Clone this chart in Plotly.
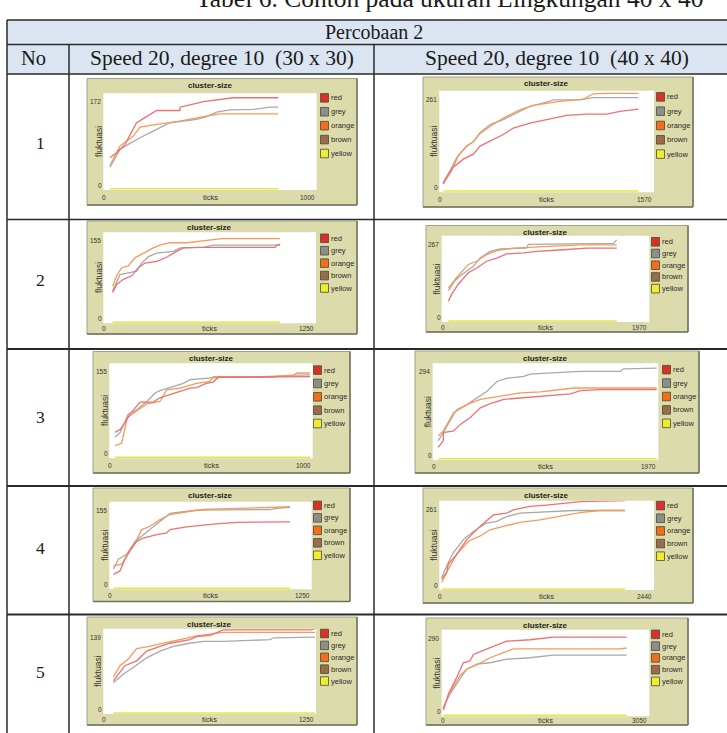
import plotly.graph_objects as go

W, H = 727, 733

# ---------------- data (ticks / values) ----------------
CAPTION = "Tabel 6. Contoh pada ukuran Lingkungan 40 x 40"
HEAD_TOP = "Percobaan 2"
HEAD_NO = "No"
HEAD_A = "Speed 20, degree 10\u00a0 (30 x 30)"
HEAD_B = "Speed 20, degree 10\u00a0 (40 x 40)"
ROW_NUMBERS = ["1", "2", "3", "4", "5"]
LEGEND_NAMES = ["red", "grey", "orange", "brown", "yellow"]
PLOT_TITLE = "cluster-size"
Y_TITLE = "fluktuasi"
X_TITLE = "ticks"

# x-axis max / y-axis max labels per plot (row 1..5, a = 30x30, b = 40x40)
XMAX_A = [1000, 1250, 1000, 1250, 1250]
YMAX_A = [172, 155, 155, 155, 139]
XMAX_B = [1570, 1970, 1970, 2440, 3050]
YMAX_B = [261, 267, 294, 261, 290]

# row 1, 30x30
t1a_red = [31, 62, 102, 141, 156, 203, 250, 359, 359, 406, 469, 609, 820]
v1a_red = [56, 65, 80, 110, 119, 130, 141, 141, 147, 151, 157, 164, 164]
t1a_grey = [31, 78, 117, 172, 234, 312, 438, 484, 531, 594, 703, 781, 820]
v1a_grey = [39, 71, 80, 92, 104, 119, 125, 130, 138, 142, 143, 147, 147]
t1a_orange = [31, 78, 141, 172, 266, 359, 469, 547, 820]
v1a_orange = [42, 77, 95, 111, 117, 122, 130, 135, 135]
# row 1, 40x40
t1b_red = [29, 54, 102, 176, 249, 298, 371, 468, 541, 663, 785, 931, 1077, 1224, 1321, 1455]
v1b_red = [19, 36, 62, 83, 96, 117, 130, 147, 164, 177, 186, 197, 200, 200, 207, 213]
t1b_grey = [29, 78, 127, 200, 249, 298, 371, 468, 566, 663, 785, 834, 1029, 1126, 1455]
v1b_grey = [23, 53, 87, 117, 128, 152, 173, 186, 203, 220, 231, 237, 237, 243, 243]
t1b_orange = [29, 90, 139, 200, 249, 298, 371, 468, 590, 688, 883, 1053, 1126, 1224, 1455]
v1b_orange = [19, 53, 92, 117, 128, 150, 168, 190, 211, 223, 233, 239, 253, 254, 254]
# row 2, 30x30
t2a_red = [55, 78, 118, 167, 206, 245, 314, 372, 431, 470, 548, 794, 1010, 1020, 1039]
v2a_red = [51, 65, 74, 80, 94, 102, 105, 112, 122, 128, 129, 129, 129, 133, 134]
t2a_grey = [55, 98, 147, 196, 225, 265, 314, 412, 451, 588, 647, 1039]
v2a_grey = [54, 82, 85, 88, 102, 113, 119, 122, 128, 129, 133, 133]
t2a_orange = [55, 78, 108, 147, 186, 235, 294, 333, 392, 490, 549, 698, 1039]
v2a_orange = [62, 80, 94, 97, 111, 119, 128, 133, 137, 137, 139, 144, 144]
# row 2, 40x40
t2b_red = [63, 95, 158, 253, 332, 427, 522, 617, 775, 901, 1154, 1376, 1661]
v2b_red = [62, 84, 115, 151, 166, 187, 197, 210, 213, 218, 223, 228, 228]
t2b_grey = [63, 126, 174, 237, 300, 364, 458, 553, 806, 822, 1628, 1661]
v2b_grey = [95, 126, 141, 156, 171, 197, 218, 226, 228, 240, 243, 254]
t2b_orange = [63, 142, 253, 332, 427, 522, 680, 901, 1154, 1312, 1661]
v2b_orange = [103, 136, 177, 187, 208, 220, 228, 231, 236, 238, 238]
# row 3, 30x30
t3a_red = [28, 54, 77, 102, 151, 216, 249, 298, 347, 397, 429, 477, 511, 536, 987]
v3a_red = [41, 46, 57, 71, 91, 91, 98, 103, 109, 114, 115, 122, 124, 132, 133]
t3a_grey = [28, 54, 93, 126, 184, 225, 249, 298, 364, 397, 544, 790, 872, 987]
v3a_grey = [33, 41, 71, 76, 92, 106, 110, 115, 122, 128, 132, 132, 135, 136]
t3a_orange = [28, 61, 88, 134, 184, 249, 282, 347, 429, 495, 511, 757, 905, 921, 987]
v3a_orange = [19, 23, 65, 76, 88, 92, 111, 114, 122, 125, 133, 133, 135, 139, 139]
# row 3, 40x40
t3b_red = [49, 93, 93, 183, 241, 329, 416, 503, 620, 852, 1056, 1202, 1289, 1464, 1956]
v3b_red = [35, 56, 81, 86, 106, 127, 157, 170, 183, 190, 196, 200, 210, 213, 213]
t3b_grey = [49, 93, 183, 212, 299, 387, 474, 561, 649, 794, 852, 998, 1289, 1638, 1668, 1956]
v3b_grey = [56, 81, 137, 152, 167, 188, 208, 238, 248, 254, 261, 264, 269, 269, 277, 279]
t3b_orange = [49, 93, 183, 299, 416, 591, 766, 940, 1056, 1231, 1956]
v3b_orange = [71, 86, 142, 167, 183, 193, 203, 206, 210, 218, 218]
# row 4, 30x30
t4a_red = [25, 66, 97, 128, 169, 210, 293, 354, 375, 478, 643, 787, 1116]
v4a_red = [25, 31, 52, 67, 84, 90, 96, 99, 105, 110, 115, 118, 119]
t4a_grey = [25, 56, 107, 159, 210, 262, 313, 375, 457, 540, 993, 1034, 1116]
v4a_grey = [34, 52, 61, 84, 96, 108, 120, 134, 137, 140, 141, 143, 145]
t4a_orange = [25, 76, 118, 159, 200, 252, 313, 375, 478, 581, 787, 1075, 1116]
v4a_orange = [40, 43, 64, 81, 105, 111, 123, 132, 137, 141, 143, 145, 146]
# row 4, 40x40
t4b_red = [27, 83, 102, 197, 311, 462, 614, 765, 841, 1030, 1220, 1599, 2110]
v4b_red = [29, 49, 73, 102, 146, 185, 219, 224, 234, 244, 248, 258, 261]
t4b_grey = [27, 83, 159, 273, 386, 538, 652, 765, 917, 1220, 1523, 2110]
v4b_grey = [34, 68, 107, 146, 170, 195, 200, 214, 224, 229, 232, 232]
t4b_orange = [27, 102, 197, 330, 462, 576, 727, 917, 1144, 1371, 1599, 1826, 2110]
v4b_orange = [19, 58, 102, 141, 156, 175, 185, 197, 204, 214, 226, 232, 232]
# row 5, 30x30
t5a_red = [59, 98, 127, 196, 255, 333, 392, 509, 548, 627, 705, 1220, 1244]
v5a_red = [53, 67, 78, 86, 102, 110, 115, 121, 126, 128, 137, 137, 139]
t5a_grey = [59, 117, 176, 255, 333, 412, 509, 588, 705, 980, 999, 1244]
v5a_grey = [50, 64, 75, 91, 102, 110, 115, 118, 118, 121, 124, 125]
t5a_orange = [59, 98, 147, 196, 255, 314, 372, 450, 548, 705, 1244]
v5a_orange = [59, 78, 89, 106, 109, 113, 116, 121, 127, 133, 133]
# row 5, 40x40
t5b_red = [24, 98, 220, 318, 416, 465, 612, 759, 955, 1298, 1640, 2717]
v5b_red = [17, 72, 128, 178, 184, 206, 220, 234, 251, 256, 265, 265]
t5b_grey = [24, 122, 269, 367, 514, 710, 955, 1298, 1640, 2717]
v5b_grey = [28, 72, 123, 156, 173, 178, 190, 195, 204, 204]
t5b_orange = [24, 122, 269, 367, 514, 710, 906, 1053, 1543, 2620, 2717]
v5b_orange = [22, 78, 134, 156, 171, 195, 212, 225, 225, 225, 228]

SERIES = [
    (t1a_red, v1a_red, t1a_grey, v1a_grey, t1a_orange, v1a_orange),
    (t1b_red, v1b_red, t1b_grey, v1b_grey, t1b_orange, v1b_orange),
    (t2a_red, v2a_red, t2a_grey, v2a_grey, t2a_orange, v2a_orange),
    (t2b_red, v2b_red, t2b_grey, v2b_grey, t2b_orange, v2b_orange),
    (t3a_red, v3a_red, t3a_grey, v3a_grey, t3a_orange, v3a_orange),
    (t3b_red, v3b_red, t3b_grey, v3b_grey, t3b_orange, v3b_orange),
    (t4a_red, v4a_red, t4a_grey, v4a_grey, t4a_orange, v4a_orange),
    (t4b_red, v4b_red, t4b_grey, v4b_grey, t4b_orange, v4b_orange),
    (t5a_red, v5a_red, t5a_grey, v5a_grey, t5a_orange, v5a_orange),
    (t5b_red, v5b_red, t5b_grey, v5b_grey, t5b_orange, v5b_orange),
]
XMAX = [v for pair in zip(XMAX_A, XMAX_B) for v in pair]
YMAX = [v for pair in zip(YMAX_A, YMAX_B) for v in pair]

# ---------------- layout geometry (pixels) ----------------
FRAMES = [
    (87, 78.5, 357, 205), (423, 77, 693, 207),
    (87, 221, 357, 334), (426, 225.5, 688, 332),
    (93, 351.5, 350, 473), (415, 351, 699, 473),
    (93, 488, 350, 601.5), (423, 488, 693, 603),
    (87, 617, 357, 725), (426, 618, 688, 725),
]
AREAS = [
    (103.3, 93.3, 316.7, 190), (439.3, 90.7, 654, 192.3),
    (103.3, 232.3, 316, 323.3), (441.7, 235.7, 649.3, 322),
    (109.3, 363.3, 312.7, 458.3), (432.7, 363.3, 658.3, 460),
    (109.3, 501.7, 311.7, 589.3), (439.3, 500.7, 654, 590),
    (103.3, 628.7, 316, 714), (441.7, 629.7, 649.3, 716.3),
]
TABLE_LEFT = 7
TABLE_TOP = 20
ROW_LINES = [TABLE_TOP, 44.5, 74, 219.5, 349, 486, 614.5]
ROW_NUM_Y = [142.7, 280, 417, 548, 672]

LINE_COLORS = {"red": "#ee7070", "grey": "#a9a9a9", "orange": "#f59a5a", "yellow": "#e6e640"}
SWATCH = ["#d9302a", "#8d8d8d", "#f26d1c", "#9c6b4a", "#eeee30"]

def px(x):
    return x / W

def py(y):
    return 1 - y / H

fig = go.Figure()
shapes = []
annotations = []

shapes.append(dict(type="rect", xref="paper", yref="paper", x0=px(TABLE_LEFT), x1=px(727), y0=py(74), y1=py(TABLE_TOP),
                   fillcolor="#dbe5f1", line=dict(width=0), layer="below"))
for i, y in enumerate(ROW_LINES):
    shapes.append(dict(type="line", xref="paper", yref="paper", x0=px(TABLE_LEFT), x1=px(727), y0=py(y), y1=py(y),
                       line=dict(color="#2a2a2a", width=2 if i >= 4 else 1.5), layer="above"))
shapes.append(dict(type="line", xref="paper", yref="paper", x0=px(TABLE_LEFT), x1=px(TABLE_LEFT),
                   y0=py(TABLE_TOP), y1=py(740), line=dict(color="#2a2a2a", width=1.5), layer="above"))
for x in (69, 374):
    shapes.append(dict(type="line", xref="paper", yref="paper", x0=px(x), x1=px(x), y0=py(44.5), y1=py(740),
                       line=dict(color="#2a2a2a", width=1.5), layer="above"))

serif = "Liberation Serif, Times New Roman, serif"
sans = "Liberation Sans, Arial, sans-serif"

def text(t, x, y, size, family=serif, xanchor="center", yanchor="middle", color="#1a1a1a", bold=False, angle=0):
    annotations.append(dict(text=f"<b>{t}</b>" if bold else t, x=px(x), y=py(y), xref="paper", yref="paper",
                            showarrow=False, xanchor=xanchor, yanchor=yanchor, textangle=angle,
                            font=dict(family=family, size=size, color=color), borderpad=0))

text(CAPTION, 450, -1, 25.5)
text(HEAD_TOP, 374, 31.5, 20)
text(HEAD_NO, 20, 58, 20.5, xanchor="left")
text(HEAD_A, 221.5, 58, 21.5)
text(HEAD_B, 557, 58, 21.5)
for label, y in zip(ROW_NUMBERS, ROW_NUM_Y):
    text(label, 40, y, 17.5)

layout_axes = {}
for i in range(10):
    L, T, R, B = FRAMES[i]
    wl, wt, wr, wb = AREAS[i]
    fh = B - T
    shapes.append(dict(type="rect", xref="paper", yref="paper", x0=px(L), x1=px(R), y0=py(B), y1=py(T),
                       fillcolor="#dcdbab", line=dict(color="#a3a38a", width=1), layer="below"))
    shapes.append(dict(type="line", xref="paper", yref="paper", x0=px(L), x1=px(R), y0=py(B), y1=py(B),
                       line=dict(color="#707060", width=1.5), layer="below"))
    shapes.append(dict(type="line", xref="paper", yref="paper", x0=px(R), x1=px(R), y0=py(B), y1=py(T),
                       line=dict(color="#707060", width=1.5), layer="below"))
    shapes.append(dict(type="rect", xref="paper", yref="paper", x0=px(wl), x1=px(wr), y0=py(wb), y1=py(wt),
                       fillcolor="#ffffff", line=dict(width=0), layer="below"))
    for k, (name, col) in enumerate(zip(LEGEND_NAMES, SWATCH)):
        cy = T + 0.153 * fh + k * 0.11 * fh
        shapes.append(dict(type="rect", xref="paper", yref="paper", x0=px(R - 36.5), x1=px(R - 28.5),
                           y0=py(cy + 4.3), y1=py(cy - 4.3), fillcolor=col,
                           line=dict(color="#4a4a3a", width=0.8), layer="above"))
        text(name, R - 27.5, cy, 7.5, family=sans, xanchor="left", color="#2a2a2a")
    text(PLOT_TITLE, (wl + wr) / 2, T + 7, 8, family=sans, bold=True, color="#222")
    text(str(YMAX[i]), wl - 1.5, wt + 8.5, 6.5, family=sans, xanchor="right", color="#333")
    text("0", wl - 3, wb - 5, 6.5, family=sans, color="#333")
    xl_y = (wb + B) / 2
    text("0", wl + 1, xl_y, 6.5, family=sans, color="#333")
    text(X_TITLE, (wl + wr) / 2, xl_y, 7.5, family=sans, color="#333")
    text(str(XMAX[i]), wr - 1, xl_y, 6.5, family=sans, xanchor="right", color="#333")
    text(Y_TITLE, wl - 5, (wt + wb) / 2, 8.5, family=sans, color="#333", angle=-90)

    n = "" if i == 0 else str(i + 1)
    layout_axes[f"xaxis{n}"] = dict(domain=[px(wl), px(wr)], range=[0, XMAX[i]], visible=False,
                                    anchor=f"y{n}", fixedrange=True)
    layout_axes[f"yaxis{n}"] = dict(domain=[py(wb), py(wt)], range=[-0.012 * YMAX[i], YMAX[i]], visible=False,
                                    anchor=f"x{n}", fixedrange=True)
    tr, vr, tg, vg, to, vo = SERIES[i]
    xa, ya = f"x{n}", f"y{n}"
    t0 = min(tr[0], tg[0], to[0])
    t1 = max(tr[-1], tg[-1], to[-1])
    fig.add_trace(go.Scatter(x=[t0, t1], y=[0, 0], mode="lines", xaxis=xa, yaxis=ya,
                             line=dict(color=LINE_COLORS["yellow"], width=1.5), hoverinfo="skip"))
    for tx, vy, cname in ((tg, vg, "grey"), (to, vo, "orange"), (tr, vr, "red")):
        fig.add_trace(go.Scatter(x=tx, y=vy, mode="lines", xaxis=xa, yaxis=ya,
                                 line=dict(color=LINE_COLORS[cname], width=1.3), hoverinfo="skip"))

fig.update_layout(width=W, height=H, margin=dict(l=0, r=0, t=0, b=0), showlegend=False,
                  paper_bgcolor="#ffffff", plot_bgcolor="rgba(0,0,0,0)",
                  shapes=shapes, annotations=annotations, **layout_axes)
fig.write_html("out.html", config={"displayModeBar": False, "staticPlot": True},
               post_script="document.body.style.margin='0';document.body.style.overflow='hidden';")
